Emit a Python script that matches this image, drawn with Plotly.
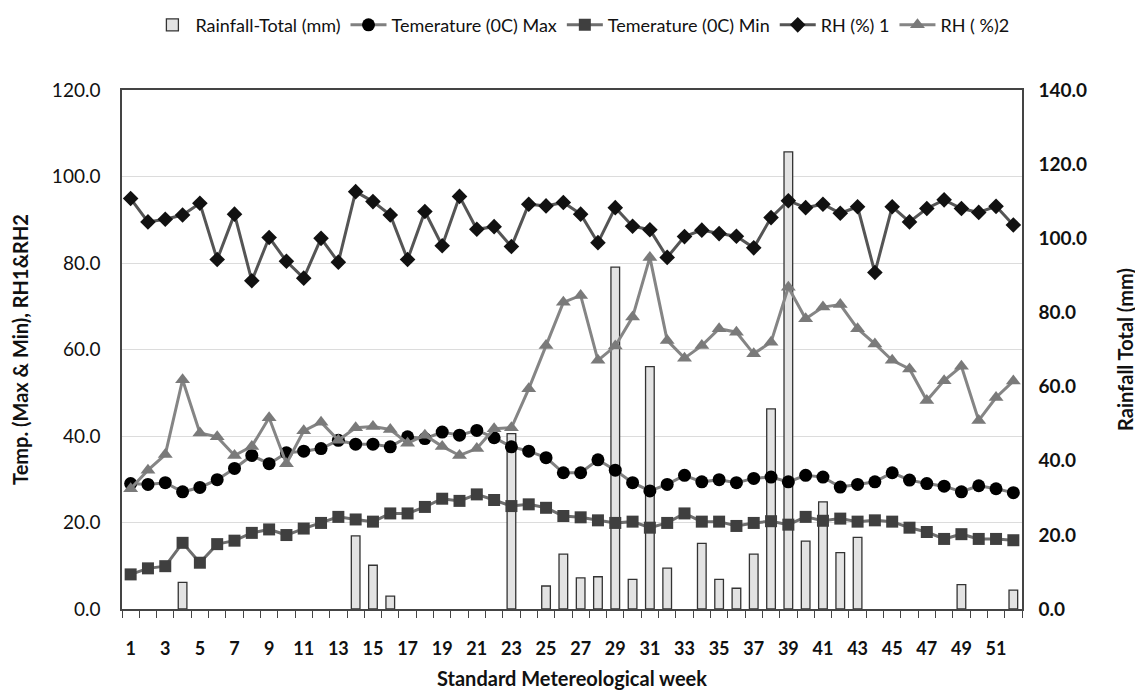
import plotly.graph_objects as go

weeks = list(range(1, 53))

rainfall = [0, 0, 0, 7.2, 0, 0, 0, 0, 0, 0, 0, 0, 0, 19.7, 11.8, 3.5, 0, 0, 0, 0,
            0, 0, 47.3, 0, 6.2, 14.8, 8.4, 8.7, 92.2, 8.0, 65.4, 11.0, 0, 17.7, 8.0, 5.6,
            14.8, 54.0, 123.3, 18.3, 28.9, 15.2, 19.3, 0, 0, 0, 0, 0, 6.6, 0, 0, 5.1]

tmax = [29.0, 28.8, 29.2, 27.1, 28.1, 29.9, 32.5, 35.5, 33.6, 36.1, 36.5, 37.1, 39.0,
        38.1, 38.1, 37.5, 39.8, 39.4, 40.9, 40.2, 41.3, 39.6, 37.5, 36.5, 35.0, 31.5,
        31.5, 34.5, 32.1, 29.2, 27.3, 28.8, 30.9, 29.4, 29.9, 29.2, 30.2, 30.5, 29.4,
        30.9, 30.5, 28.2, 28.8, 29.4, 31.5, 29.8, 29.0, 28.4, 27.1, 28.5, 27.8, 26.9]

tmin = [8.0, 9.4, 9.9, 15.3, 10.7, 15.0, 15.8, 17.6, 18.4, 17.1, 18.6, 19.9, 21.3,
        20.7, 20.2, 22.1, 22.1, 23.6, 25.5, 25.0, 26.5, 25.2, 23.8, 24.2, 23.4, 21.5,
        21.2, 20.5, 19.9, 20.2, 18.8, 19.9, 22.1, 20.2, 20.2, 19.2, 19.9, 20.3, 19.5,
        21.3, 20.4, 20.9, 20.2, 20.5, 20.2, 18.8, 17.8, 16.2, 17.3, 16.2, 16.2, 15.9]

rh1 = [94.9, 89.5, 90.1, 91.1, 93.8, 80.8, 91.3, 75.9, 85.9, 80.4, 76.5, 85.7, 80.2,
       96.5, 94.2, 91.1, 80.8, 91.9, 84.0, 95.4, 87.8, 88.4, 83.8, 93.6, 93.2, 94.0,
       91.3, 84.7, 92.8, 88.5, 87.7, 81.3, 86.1, 87.6, 86.8, 86.2, 83.5, 90.5, 94.4,
       92.8, 93.6, 91.5, 93.0, 77.8, 93.0, 89.5, 92.6, 94.6, 92.6, 91.7, 93.1, 88.8]

rh2 = [27.8, 32.1, 35.7, 53.0, 40.7, 39.8, 35.5, 37.6, 44.2, 33.6, 41.2, 43.2, 39.0,
       41.9, 42.2, 41.5, 38.3, 40.2, 37.6, 35.5, 37.1, 41.7, 41.9, 50.9, 60.9, 70.9,
       72.5, 57.5, 60.8, 67.5, 81.3, 62.1, 58.0, 60.9, 64.8, 64.0, 59.0, 61.7, 74.4,
       67.1, 69.8, 70.4, 64.8, 61.3, 57.5, 55.5, 48.2, 52.8, 56.1, 43.6, 48.9, 52.7]

left_ticks = [0, 20, 40, 60, 80, 100, 120]
right_ticks = [0, 20, 40, 60, 80, 100, 120, 140]
x_labels = list(range(1, 53, 2))

FONT = "Lato, Roboto, DejaVu Sans, sans-serif"
INK = "#111111"

# weeks without rain draw no bar at all
rain_plot = [v if v > 0 else None for v in rainfall]

fig = go.Figure()

# Bars on the (right-side) primary axis so that the lines are drawn on top
fig.add_trace(go.Bar(
    x=weeks, y=rain_plot, name="Rainfall-Total (mm)", yaxis="y",
    marker=dict(color="#e3e3e3", line=dict(color="#333333", width=1.3)),
    width=0.5,
))

fig.add_trace(go.Scatter(
    x=weeks, y=tmax, name="Temerature (0C) Max", mode="lines+markers", yaxis="y2",
    line=dict(color="#808080", width=3),
    marker=dict(symbol="circle", size=13, color="#000000"),
))
fig.add_trace(go.Scatter(
    x=weeks, y=tmin, name="Temerature (0C) Min", mode="lines+markers", yaxis="y2",
    line=dict(color="#6e6e6e", width=3),
    marker=dict(symbol="square", size=12, color="#3f3f3f"),
))
fig.add_trace(go.Scatter(
    x=weeks, y=rh1, name="RH (%) 1", mode="lines+markers", yaxis="y2",
    line=dict(color="#555555", width=3),
    marker=dict(symbol="diamond", size=12, color="#111111"),
))
fig.add_trace(go.Scatter(
    x=weeks, y=rh2, name="RH ( %)2", mode="lines+markers", yaxis="y2",
    line=dict(color="#858585", width=3),
    marker=dict(symbol="triangle-up", size=13, color="#7a7a7a"),
))

fig.update_layout(
    width=1135, height=683,
    paper_bgcolor="white", plot_bgcolor="white",
    margin=dict(l=114, r=121, t=82, b=82, autoexpand=False),
    font=dict(family=FONT, color=INK),
    showlegend=True,
    legend=dict(orientation="h", x=0.511, xanchor="center", y=1.125, yanchor="middle",
                yref="paper", xref="paper",
                font=dict(size=18, color=INK, family=FONT), itemwidth=36,
                traceorder="normal", tracegroupgap=0),
    xaxis=dict(
        range=[0.5, 52.5], automargin=False,
        tickmode="array", tickvals=x_labels, ticktext=[str(v) for v in x_labels],
        ticks="", ticklabelstandoff=23,
        tickfont=dict(size=18, family=FONT, color=INK, weight="bold"),
        showgrid=False, zeroline=False,
        showline=True, linecolor="#444444", linewidth=1.5, mirror=True,
        minor=dict(tickmode="linear", tick0=0.5, dtick=1, ticks="outside",
                   ticklen=7, tickcolor="#444444", tickwidth=1.2, showgrid=False),
        title=dict(text="<b>Standard Metereological week</b>",
                   font=dict(size=20, family=FONT, color=INK), standoff=14),
    ),
    # rainfall axis (right)
    yaxis=dict(
        range=[0, 140], side="right", automargin=False,
        tickmode="array", tickvals=right_ticks,
        ticktext=[f"{v:.1f}" for v in right_ticks],
        tickfont=dict(size=19, family=FONT, color=INK, weight="bold"),
        ticks="", ticklabelstandoff=11,
        showgrid=False, zeroline=False, showline=True,
        linecolor="#444444", linewidth=1.5,
        title=dict(text="<b>Rainfall Total (mm)</b>",
                   font=dict(size=20, family=FONT, color=INK), standoff=33),
    ),
    # temperature / RH axis (left)
    yaxis2=dict(
        range=[0, 120], overlaying="y", side="left", automargin=False,
        tickmode="array", tickvals=left_ticks,
        ticktext=[f"{v:.1f}" for v in left_ticks],
        tickfont=dict(size=19, family=FONT, color=INK),
        ticks="", ticklabelstandoff=16,
        showgrid=True, gridcolor="#dcdcdc", gridwidth=1.2,
        zeroline=False, showline=True, linecolor="#444444", linewidth=1.5,
        title=dict(text="<b>Temp. (Max & Min), RH1&RH2</b>",
                   font=dict(size=20, family=FONT, color=INK), standoff=18),
    ),
)

fig.write_html("out.html")
